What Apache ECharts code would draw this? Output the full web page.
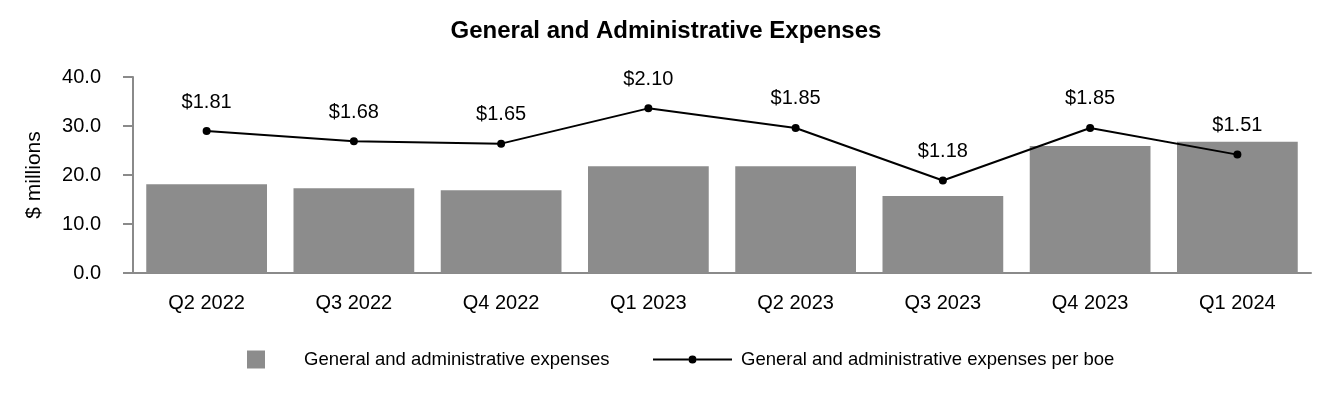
<!DOCTYPE html>
<html>
<head>
<meta charset="utf-8">
<script src="https://cdn.jsdelivr.net/npm/echarts@6/dist/echarts.min.js"></script>
<style>
html,body{margin:0;padding:0;background:#fff;}
#chart{width:1332px;height:400px;}
</style>
</head>
<body>
<div id="chart"></div>
<script>
const categories = ['Q2 2022','Q3 2022','Q4 2022','Q1 2023','Q2 2023','Q3 2023','Q4 2023','Q1 2024'];
const gaExpenses = [18.1, 17.3, 16.9, 21.8, 21.8, 15.7, 25.9, 26.8];
const gaPerBoe = [1.81, 1.68, 1.65, 2.10, 1.85, 1.18, 1.85, 1.51];
const yTicks = [0, 10, 20, 30, 40];

const FONT = "'Liberation Sans', Arial, sans-serif";
const AXIS_GREY = '#8a8a8a';
const BAR_GREY = '#8c8c8c';
const LINE_ICON = 'path://M0,8L35.5,8L35.5,10L0,10Z M43.5,8L79,8L79,10L43.5,10Z M35.5,9a4,4 0 1,1 8,0a4,4 0 1,1 -8,0Z';

const chart = echarts.init(document.getElementById('chart'), null, {renderer: 'canvas'});
chart.setOption({
  animation: false,
  backgroundColor: '#ffffff',
  title: {
    text: 'General and Administrative Expenses',
    left: 'center',
    top: 14,
    textStyle: {fontFamily: FONT, fontSize: 24, fontWeight: 'bold', color: '#000'}
  },
  grid: {left: 133, right: 21, top: 77, bottom: 127, containLabel: false},
  legend: [
    {
      data: ['General and administrative expenses'],
      left: 242, top: 345,
      itemWidth: 18, itemHeight: 18,
      icon: 'rect',
      textStyle: {fontFamily: FONT, fontSize: 18.5, color: '#000', padding: [0, 0, 0, 34]}
    },
    {
      data: [{name: 'General and administrative expenses per boe', icon: LINE_ICON}],
      left: 648, top: 345,
      itemWidth: 79, itemHeight: 18,
      symbolKeepAspect: true,
      textStyle: {fontFamily: FONT, fontSize: 18.5, color: '#000', padding: [0, 0, 0, 4]}
    }
  ],
  xAxis: {
    type: 'category',
    data: categories,
    axisLine: {lineStyle: {color: AXIS_GREY, width: 2}},
    axisTick: {alignWithLabel: true, length: 10, lineStyle: {color: AXIS_GREY, width: 2}},
    axisLabel: {fontFamily: FONT, fontSize: 20, color: '#000', margin: 20}
  },
  yAxis: [
    {
      type: 'value',
      min: yTicks[0], max: yTicks[yTicks.length - 1], interval: 10,
      name: '$ millions',
      nameLocation: 'middle',
      nameRotate: 90,
      nameGap: 88,
      nameTextStyle: {fontFamily: FONT, fontSize: 21, color: '#000'},
      axisLine: {show: true, lineStyle: {color: AXIS_GREY, width: 2}},
      axisTick: {show: true, length: 10, lineStyle: {color: AXIS_GREY, width: 2}},
      splitLine: {show: false},
      axisLabel: {fontFamily: FONT, fontSize: 20, color: '#000', margin: 32,
        formatter: v => v.toFixed(1)}
    },
    {
      type: 'value',
      min: 0, max: 2.5,
      show: false,
      splitLine: {show: false}
    }
  ],
  series: [
    {
      name: 'General and administrative expenses',
      type: 'bar',
      data: gaExpenses,
      barCategoryGap: '18%',
      itemStyle: {color: BAR_GREY},
      yAxisIndex: 0
    },
    {
      name: 'General and administrative expenses per boe',
      type: 'line',
      data: gaPerBoe,
      yAxisIndex: 1,
      symbol: 'circle',
      symbolSize: 8,
      lineStyle: {color: '#000', width: 2},
      itemStyle: {color: '#000'},
      label: {
        show: true, position: 'top', distance: 15,
        fontFamily: FONT, fontSize: 20, color: '#000',
        formatter: p => '$' + p.value.toFixed(2)
      }
    }
  ]
});
</script>
</body>
</html>
